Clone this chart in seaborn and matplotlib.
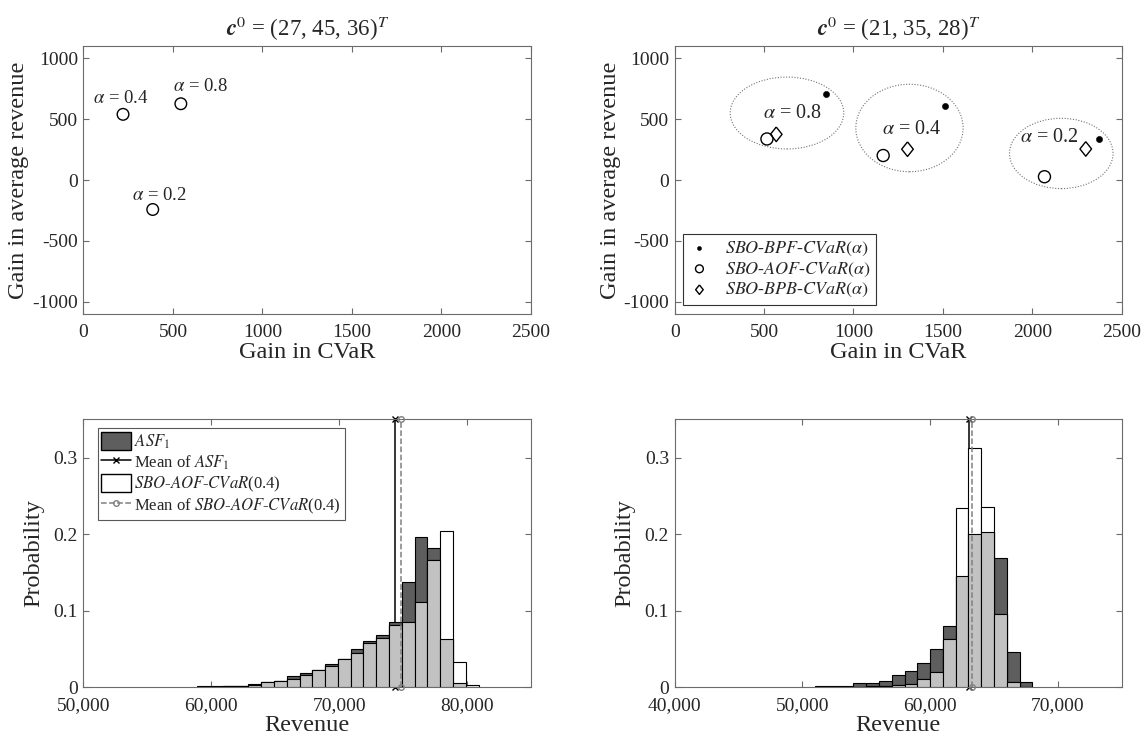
import numpy as np
import pandas as pd
import matplotlib
matplotlib.use('Agg')
import matplotlib.pyplot as plt
import seaborn as sns
from matplotlib.patches import Ellipse, Patch
from matplotlib.lines import Line2D
from matplotlib.ticker import FuncFormatter

# --- top left panel: c0 = (27, 45, 36) ---
tl_alpha = ['0.2', '0.4', '0.8']
tl_cvar = [387, 221, 544]
tl_rev = [-242, 539, 626]
tl_label_x = [422, 206, 655]
tl_label_y = [-131, 669, 767]

# --- top right panel: c0 = (21, 35, 28) ---
tr_alpha = ['0.8', '0.4', '0.2']
bpf_cvar = [848, 1509, 2374]
bpf_rev = [702, 609, 340]
aof_cvar = [516, 1166, 2068]
aof_rev = [337, 201, 27]
bpb_cvar = [568, 1302, 2299]
bpb_rev = [375, 253, 255]
tr_label_x = [656, 1324, 2097]
tr_label_y = [547, 416, 351]
ell_x = [628, 1313, 2162]
ell_y = [550, 427, 218]
ell_w = [635, 600, 579]
ell_h = [590, 718, 577]

# --- bottom left histogram ---
bl_edges = [58900, 59900, 60900, 61900, 62900, 63900, 64900, 65900, 66900, 67900,
            68900, 69900, 70900, 71900, 72900, 73900, 74900, 75900, 76900, 77900,
            78900, 79900, 80900]
bl_asf = [0.0013, 0.0013, 0.002, 0.002, 0.0044, 0.0074, 0.008, 0.0144, 0.0187, 0.0226,
          0.0305, 0.037, 0.050, 0.0605, 0.068, 0.0858, 0.137, 0.196, 0.182, 0.0636,
          0.0057, 0.001]
bl_sbo = [0.0003, 0.001, 0.002, 0.002, 0.0035, 0.007, 0.008, 0.0113, 0.0161, 0.0226,
          0.0283, 0.037, 0.0444, 0.0575, 0.0644, 0.0814, 0.0849, 0.111, 0.166, 0.204,
          0.0327, 0.0026]
bl_mean_asf = 74386
bl_mean_sbo = 74855

# --- bottom right histogram ---
br_edges = [51000, 52000, 53000, 54000, 55000, 56000, 57000, 58000, 59000, 60000,
            61000, 62000, 63000, 64000, 65000, 66000, 67000, 68000]
br_asf = [0.0013, 0.002, 0.002, 0.0057, 0.0057, 0.0083, 0.0165, 0.0209, 0.0313, 0.0505,
          0.0797, 0.1458, 0.200, 0.2024, 0.1685, 0.0457, 0.007]
br_sbo = [0.0, 0.0, 0.0005, 0.001, 0.0015, 0.0013, 0.003, 0.0044, 0.0104, 0.020,
          0.0627, 0.2347, 0.3122, 0.2355, 0.0953, 0.0074, 0.0]
br_mean_asf = 63075
br_mean_sbo = 63280

DARK = '#5e5e5e'
LIGHT = '#c2c2c2'
FRAME = '0.42'

sns.set_style('ticks')
plt.rcParams['font.family'] = ['Liberation Serif', 'DejaVu Serif']
plt.rcParams['mathtext.fontset'] = 'stix'
plt.rcParams['axes.unicode_minus'] = False

fig = plt.figure(figsize=(11.48, 7.42), dpi=100)
ax_tl = fig.add_axes([0.0727, 0.5768, 0.3898, 0.3612])
ax_tr = fig.add_axes([0.5877, 0.5768, 0.3894, 0.3612])
ax_bl = fig.add_axes([0.0727, 0.0737, 0.3898, 0.3612])
ax_br = fig.add_axes([0.5877, 0.0737, 0.3894, 0.3612])


def style_ax(ax):
    for sp in ax.spines.values():
        sp.set_color(FRAME)
        sp.set_linewidth(0.8)
    ax.tick_params(direction='in', top=True, right=True, length=4, width=0.8,
                   color=FRAME, labelsize=14, labelcolor='0.15')
    ax.tick_params(axis='x', pad=7)
    ax.tick_params(axis='y', pad=4)


# diamond slightly narrower than tall, like the original
diamond = [(0, 1), (0.8, 0), (0, -1), (-0.8, 0), (0, 1)]

# ---- top left ----
ax = ax_tl
sns.scatterplot(x=tl_cvar, y=tl_rev, marker='o', s=70, facecolor='none',
                edgecolor='black', linewidth=1, ax=ax, zorder=3)
for a, lx, ly in zip(tl_alpha, tl_label_x, tl_label_y):
    ax.text(lx, ly, r'$\alpha$ = ' + a, ha='center', va='center', fontsize=13.5)

# ---- top right ----
ax = ax_tr
for ex, ey, ew, eh in zip(ell_x, ell_y, ell_w, ell_h):
    ax.add_patch(Ellipse((ex, ey), ew, eh, fill=False, ls=(0, (1, 1.5)),
                         lw=0.8, edgecolor='0.45'))
sns.scatterplot(x=bpf_cvar, y=bpf_rev, marker='o', s=20, color='black',
                edgecolor='black', ax=ax, zorder=3,
                label=r'$\mathit{SBO}$-$\mathit{BPF}$-$\mathit{CVaR}(\alpha)$')
sns.scatterplot(x=aof_cvar, y=aof_rev, marker='o', s=75, facecolor='none',
                edgecolor='black', linewidth=1, ax=ax, zorder=3,
                label=r'$\mathit{SBO}$-$\mathit{AOF}$-$\mathit{CVaR}(\alpha)$')
sns.scatterplot(x=bpb_cvar, y=bpb_rev, marker=diamond, s=110, facecolor='none',
                edgecolor='black', linewidth=1, ax=ax, zorder=3,
                label=r'$\mathit{SBO}$-$\mathit{BPB}$-$\mathit{CVaR}(\alpha)$')
for a, lx, ly in zip(tr_alpha, tr_label_x, tr_label_y):
    ax.text(lx, ly, r'$\alpha$ = ' + a, ha='center', va='center', fontsize=14.5)
leg = ax.legend(loc='lower left', bbox_to_anchor=(0.019, 0.034), borderaxespad=0,
                fontsize=13, markerscale=0.65, handlelength=1.2, handletextpad=0.8,
                labelspacing=0.15, borderpad=0.3, fancybox=False, framealpha=1)
leg.get_frame().set_edgecolor('0.2')
leg.get_frame().set_linewidth(0.8)

for ax, title in [(ax_tl, r'$\mathbfit{c}^{0}$ = (27, 45, 36)$^{T}$'),
                  (ax_tr, r'$\mathbfit{c}^{0}$ = (21, 35, 28)$^{T}$')]:
    style_ax(ax)
    ax.set_xlim(0, 2500)
    ax.set_ylim(-1100, 1100)
    ax.set_xticks([0, 500, 1000, 1500, 2000, 2500])
    ax.set_yticks([-1000, -500, 0, 500, 1000])
    ax.set_xlabel('Gain in CVaR', fontsize=17.5, labelpad=1)
    ax.set_ylabel('Gain in average revenue', fontsize=17.5, labelpad=2)
    ax.set_title(title, fontsize=16.5, pad=7)


# ---- histograms ----
def draw_hist(ax, edges, asf, sbo, m_asf, m_sbo):
    e = np.asarray(edges, dtype=float)
    df = pd.DataFrame({'center': (e[:-1] + e[1:]) / 2,
                       'asf': asf, 'sbo': sbo})
    df['low'] = df[['asf', 'sbo']].min(axis=1)
    for col, fc, z in [('asf', DARK, 2), ('sbo', 'white', 3), ('low', LIGHT, 4)]:
        sns.histplot(data=df, x='center', weights=col, bins=list(edges), color=fc,
                     edgecolor='black', linewidth=0.8, alpha=1, ax=ax, zorder=z)
    ax.plot([m_asf, m_asf], [0, 0.35], color='black', lw=1.1, marker='x', ms=4,
            zorder=1, clip_on=False)
    ax.plot([m_sbo, m_sbo], [0, 0.35], color='0.5', lw=1.1, ls='--', marker='o', ms=4,
            mfc='none', mec='0.5', zorder=5, clip_on=False)
    style_ax(ax)
    ax.set_ylim(0, 0.35)
    ax.set_yticks([0, 0.1, 0.2, 0.3])
    ax.yaxis.set_major_formatter(FuncFormatter(lambda v, p: '%g' % round(v, 2)))
    ax.xaxis.set_major_formatter(FuncFormatter(lambda v, p: '{:,.0f}'.format(v)))
    ax.set_xlabel('Revenue', fontsize=17.5, labelpad=1)
    ax.set_ylabel('Probability', fontsize=17.5, labelpad=7)


draw_hist(ax_bl, bl_edges, bl_asf, bl_sbo, bl_mean_asf, bl_mean_sbo)
ax_bl.set_xlim(50000, 85000)
ax_bl.set_xticks([50000, 60000, 70000, 80000])

draw_hist(ax_br, br_edges, br_asf, br_sbo, br_mean_asf, br_mean_sbo)
ax_br.set_xlim(40000, 75000)
ax_br.set_xticks([40000, 50000, 60000, 70000])

sbo_lab = r'$\mathit{SBO}$-$\mathit{AOF}$-$\mathit{CVaR}$(0.4)'
handles = [
    Patch(facecolor=DARK, edgecolor='black', label=r'$ASF_1$'),
    Line2D([], [], color='black', lw=1.1, marker='x', ms=4, label=r'Mean of $ASF_1$'),
    Patch(facecolor='white', edgecolor='black', label=sbo_lab),
    Line2D([], [], color='0.5', lw=1.1, ls='--', marker='o', ms=4, mfc='none',
           mec='0.5', label='Mean of ' + sbo_lab),
]
leg = ax_bl.legend(handles=handles, loc='upper left', bbox_to_anchor=(0.032, 0.966),
                   borderaxespad=0, fontsize=12, handlelength=1.8, handleheight=1.3,
                   handletextpad=0.2, labelspacing=0.12, borderpad=0.2, fancybox=False,
                   framealpha=1)
leg.get_frame().set_edgecolor('0.35')
leg.get_frame().set_linewidth(0.8)

fig.savefig('out.png', dpi=100)
